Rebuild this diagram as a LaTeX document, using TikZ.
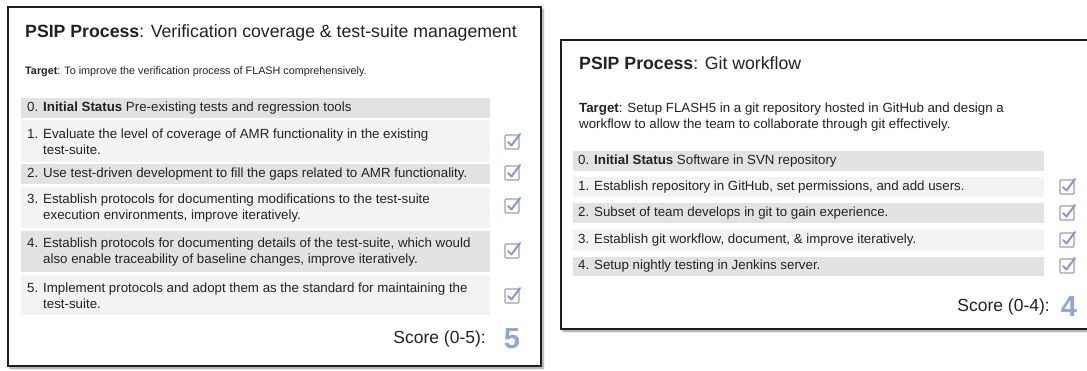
\documentclass[tikz,border=0pt]{standalone}
\usepackage{fontspec}
\setmainfont{Liberation Sans}
\usetikzlibrary{shadows.blur}

\definecolor{frame}{HTML}{1E1E1E}
\definecolor{bandA}{HTML}{E2E2E2}
\definecolor{bandB}{HTML}{F3F3F3}
\definecolor{ink}{HTML}{222222}
\definecolor{boxgray}{HTML}{9EA1A8}
\definecolor{tickblue}{HTML}{7F9CD9}
\definecolor{scoreblue}{HTML}{8CA5DE}

\tikzset{
  panel/.style={draw=frame, line width=1.8pt, fill=white,
    blur shadow={shadow xshift=2pt, shadow yshift=-2pt, shadow blur steps=6, shadow opacity=45}},
  titletext/.style={anchor=west, inner sep=0pt, text=ink, font=\fontsize{17.7}{20}\selectfont},
  smalltext/.style={anchor=west, inner sep=0pt, text=ink, align=left, font=\fontsize{10.8}{14}\selectfont},
  bodytext/.style={anchor=west, inner sep=0pt, text=ink, align=left, font=\fontsize{13.3}{15.8}\selectfont},
  scoretext/.style={anchor=east, inner sep=0pt, text=ink, font=\fontsize{17.5}{20}\selectfont},
  scorenum/.style={inner sep=0pt, text=scoreblue, font=\fontsize{29}{32}\selectfont\bfseries},
  darkband/.style={fill=bandA},
  lightband/.style={fill=bandB},
  donebox/.pic={
    \draw[boxgray, line width=1.3pt, rounded corners=1pt] (-7,-7) rectangle (7,7);
    \draw[tickblue, line width=2pt, line cap=round, line join=round] (-4,0) -- (-0.5,3.5) -- (8,-8);
  }
}

\begin{document}
\begin{tikzpicture}[x=1pt, y=-1pt]
\useasboundingbox (0,0) rectangle (1087,370);

% ---------- left panel ----------
\path[panel] (8,7) rectangle (541,366);
\node[titletext] (ltitle) at (25,33) {\textbf{PSIP Process}: Verification coverage \& test-suite management};
\node[smalltext] (ltarget) at (25,72) {\textbf{Target}: To improve the verification process of FLASH comprehensively.};

\path[darkband]  (21,98)  rectangle (490,118);
\path[lightband] (21,120) rectangle (490,162);
\path[darkband]  (21,164) rectangle (490,184);
\path[lightband] (21,187) rectangle (490,228);
\path[darkband]  (21,231) rectangle (490,272);
\path[lightband] (21,275) rectangle (490,315);

\node[bodytext] (l0) at (27,108) {0. \textbf{Initial Status} Pre-existing tests and regression tools};
\node[bodytext] (l1) at (27,142) {1. Evaluate the level of coverage of AMR functionality in the existing\\\phantom{1. }test-suite.};
\node[bodytext] (l2) at (27,174) {2. Use test-driven development to fill the gaps related to AMR functionality.};
\node[bodytext] (l3) at (27,208) {3. Establish protocols for documenting modifications to the test-suite\\\phantom{3. }execution environments, improve iteratively.};
\node[bodytext] (l4) at (27,252) {4. Establish protocols for documenting details of the test-suite, which would\\\phantom{4. }also enable traceability of baseline changes, improve iteratively.};
\node[bodytext] (l5) at (27,296) {5. Implement protocols and adopt them as the standard for maintaining the\\\phantom{5. }test-suite.};

\pic at (512,142) {donebox};
\pic at (512,173) {donebox};
\pic at (512,206) {donebox};
\pic at (512,251) {donebox};
\pic at (512,296) {donebox};

\node[scoretext] (lscore) at (486,339) {Score (0-5):};
\node[scorenum] (lnum) at (512,339) {5};

% ---------- right panel ----------
\path[panel] (561,40) rectangle (1096,329);
\node[titletext] (rtitle) at (579,63) {\textbf{PSIP Process}: Git workflow};
\node[bodytext] (rtarget) at (579,117) {\textbf{Target}: Setup FLASH5 in a git repository hosted in GitHub and design a\\workflow to allow the team to collaborate through git effectively.};

\path[darkband]  (573,151) rectangle (1044,171);
\path[lightband] (573,177) rectangle (1044,197);
\path[darkband]  (573,203) rectangle (1044,223);
\path[lightband] (573,230) rectangle (1044,250);
\path[darkband]  (573,257) rectangle (1044,276);

\node[bodytext] (r0) at (578,161) {0. \textbf{Initial Status} Software in SVN repository};
\node[bodytext] (r1) at (578,187) {1. Establish repository in GitHub, set permissions, and add users.};
\node[bodytext] (r2) at (578,213) {2. Subset of team develops in git to gain experience.};
\node[bodytext] (r3) at (578,240) {3. Establish git workflow, document, \& improve iteratively.};
\node[bodytext] (r4) at (578,266) {4. Setup nightly testing in Jenkins server.};

\pic at (1067,187) {donebox};
\pic at (1067,213) {donebox};
\pic at (1067,240) {donebox};
\pic at (1067,266) {donebox};

\node[scoretext] (rscore) at (1050,307) {Score (0-4):};
\node[scorenum] (rnum) at (1069,307) {4};
\end{tikzpicture}
\end{document}
